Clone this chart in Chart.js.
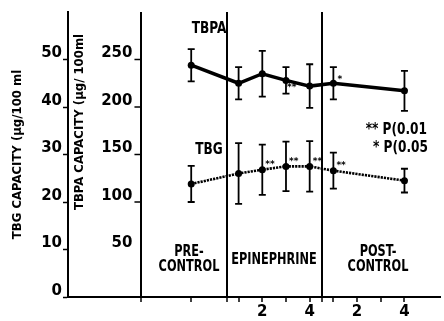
<!DOCTYPE html>
<html><head><meta charset="utf-8">
<script src="https://cdn.jsdelivr.net/npm/chart.js@4/dist/chart.umd.min.js"></script>
<style>html,body{margin:0;padding:0;background:#fff;}#wrap{width:444px;height:321px;}</style>
</head><body><div id="wrap"><canvas id="c" width="444" height="321"></canvas></div>
<script>
// ---- data ----
const categories = ['Pre-control','Epinephrine 1','Epinephrine 2','Epinephrine 3','Epinephrine 4','Post-control 1','Post-control 4'];
const timeIndex = [-1, 1, 2, 3, 4, 5, 8];
const tbpaMean = [244, 225, 235, 228, 222, 225, 217];
const tbpaErr  = [17, 17, 24, 14, 23, 17, 21];
const tbgMean  = [23.8, 26.0, 26.8, 27.5, 27.5, 26.6, 24.5];
const tbgErr   = [3.8, 6.4, 5.3, 5.2, 5.3, 3.8, 2.5];
const tbpaSig  = ['', '', '', '**', '', '*', ''];
const tbgSig   = ['', '', '**', '**', '**', '**', ''];
const tbgTicks  = [0, 10, 20, 30, 40, 50];
const tbpaTicks = [50, 100, 150, 200, 250];
const xTickValues = [-3.1, -1, 0.5, 1, 2, 3, 4, 4.5, 5, 6, 7, 8];
const xTickLabels = ['', '', '', '', '2', '', '4', '', '', '2', '', '4'];
const dividers = [-3.1, 0.5, 4.5];
const phaseLabels = [['PRE-', 'CONTROL'], ['EPINEPHRINE'], ['POST-', 'CONTROL']];
const seriesNames = ['TBPA', 'TBG'];
const sigNotes = ['** P(0.01', '* P(0.05'];
const yTitleTBG = 'TBG CAPACITY (µg/100 ml';
const yTitleTBPA = 'TBPA CAPACITY (µg/ 100ml';

const NARROW = "'Liberation Sans Narrow', 'DejaVu Sans Condensed', 'Liberation Sans', sans-serif";
const WIDE = "'DejaVu Sans', sans-serif";

function squeezed(ctx, text, x, y, sx, align) {
  ctx.save();
  ctx.translate(x, y);
  ctx.scale(sx, 1);
  ctx.textAlign = align;
  ctx.fillText(text, 0, 0);
  ctx.restore();
}

const overlay = {
  id: 'overlay',
  afterDatasetsDraw(chart) {
    const {ctx, scales} = chart;
    const x = scales.x, y2 = scales.y2;
    ctx.save();
    ctx.strokeStyle = '#000';
    ctx.fillStyle = '#000';
    // error bars
    chart.data.datasets.forEach((ds, i) => {
      const meta = chart.getDatasetMeta(i);
      const sc = scales[ds.yAxisID];
      meta.data.forEach((pt, j) => {
        const m = ds.data[j].y, e = ds.errs[j];
        const yt = sc.getPixelForValue(m + e), yb = sc.getPixelForValue(m - e);
        ctx.lineWidth = 1.8;
        ctx.beginPath();
        ctx.moveTo(pt.x, yt); ctx.lineTo(pt.x, yb);
        ctx.moveTo(pt.x - 3.5, yt); ctx.lineTo(pt.x + 3.5, yt);
        ctx.moveTo(pt.x - 3.5, yb); ctx.lineTo(pt.x + 3.5, yb);
        ctx.stroke();
        const s = ds.sig[j];
        if (s) {
          ctx.font = "bold 9px " + WIDE;
          ctx.textAlign = 'left';
          ctx.textBaseline = 'middle';
          if (i === 0) {
            if (s === '**') ctx.fillText(s, pt.x + 1, pt.y + 7);
            else ctx.fillText(s, pt.x + 4, pt.y - 4);
          } else {
            ctx.fillText(s, pt.x + 3, pt.y - 5);
          }
        }
      });
    });
    // TBPA axis ticks & labels
    const ax = x.getPixelForValue(dividers[0]);
    ctx.lineWidth = 1.5;
    ctx.font = "bold 15px " + WIDE;
    ctx.textAlign = 'right';
    ctx.textBaseline = 'middle';
    tbpaTicks.forEach(v => {
      const yy = y2.getPixelForValue(v);
      if (v !== 50) {
        ctx.beginPath(); ctx.moveTo(ax - 7, yy); ctx.lineTo(ax, yy); ctx.stroke();
      }
      ctx.fillText(String(v), ax - 9, yy - 6);
    });
    // TBPA axis title
    ctx.save();
    ctx.translate(80, 122);
    ctx.rotate(-Math.PI / 2);
    ctx.font = "bold 13px " + NARROW;
    ctx.textAlign = 'center';
    ctx.fillText(yTitleTBPA, 0, 0);
    ctx.restore();
    // series labels
    ctx.font = "bold 15px " + NARROW;
    squeezed(ctx, seriesNames[0], 209, 29, 0.9, 'center');
    squeezed(ctx, seriesNames[1], 209, 150, 0.9, 'center');
    // phase labels
    const pos = [[189, 252], [274, 260], [378, 252]];
    phaseLabels.forEach((lines, k) => {
      lines.forEach((t, li) => squeezed(ctx, t, pos[k][0], pos[k][1] + li * 15, 0.84, 'center'));
    });
    // significance legend
    squeezed(ctx, sigNotes[0], 427, 130, 0.9, 'right');
    squeezed(ctx, sigNotes[1], 428, 148, 0.9, 'right');
    ctx.restore();
  }
};

const chart = new Chart(document.getElementById('c'), {
  type: 'line',
  data: {
    labels: categories,
    datasets: [
      {
        label: seriesNames[0], yAxisID: 'y2',
        data: timeIndex.map((t, i) => ({x: t, y: tbpaMean[i]})),
        errs: tbpaErr, sig: tbpaSig,
        borderColor: '#000', backgroundColor: '#000', borderWidth: 3.5,
        pointRadius: 3.5, pointBorderWidth: 0, pointBackgroundColor: '#000', tension: 0
      },
      {
        label: seriesNames[1], yAxisID: 'y',
        data: timeIndex.map((t, i) => ({x: t, y: tbgMean[i]})),
        errs: tbgErr, sig: tbgSig,
        borderColor: '#000', backgroundColor: '#000', borderWidth: 2.6, borderDash: [2.2, 1],
        pointRadius: 3.5, pointBorderWidth: 0, pointBackgroundColor: '#000', tension: 0
      }
    ]
  },
  options: {
    responsive: false, animation: false, devicePixelRatio: 1,
    layout: {padding: {top: 12, left: 0, right: 0, bottom: 0}},
    plugins: {legend: {display: false}, tooltip: {enabled: false}},
    scales: {
      x: {
        type: 'linear', min: -6.2, max: 9.5, offset: false,
        afterBuildTicks: s => { s.ticks = xTickValues.map(v => ({value: v})); },
        afterFit: s => { s.height = 24; },
        ticks: {
          autoSkip: false, maxRotation: 0, padding: 1, color: '#000',
          font: {family: WIDE, size: 15, weight: 'bold'},
          callback: (v, i) => xTickLabels[i]
        },
        grid: {
          drawOnChartArea: true, tickLength: 5, tickWidth: 1.5, tickColor: '#000', lineWidth: 2,
          color: c => (c.tick && dividers.includes(c.tick.value)) ? '#000' : 'rgba(0,0,0,0)'
        },
        border: {display: true, color: '#000', width: 2}
      },
      y: {
        type: 'linear', position: 'left', min: 0, max: 60,
        afterBuildTicks: s => { s.ticks = tbgTicks.map(v => ({value: v})); },
        afterFit: s => { s.width = 68; },
        ticks: {padding: 1, labelOffset: -6, color: '#000', font: {family: WIDE, size: 15, weight: 'bold'}},
        grid: {drawOnChartArea: false, tickLength: 5, tickWidth: 1.5, tickColor: '#000'},
        border: {display: true, color: '#000', width: 2},
        title: {display: true, text: yTitleTBG, color: '#000', padding: {top: 10, bottom: 0},
                font: {family: NARROW, size: 13, weight: 'bold'}}
      },
      y2: {
        type: 'linear', display: false, min: 0, max: 300
      }
    }
  },
  plugins: [overlay]
});
</script>
</body></html>
